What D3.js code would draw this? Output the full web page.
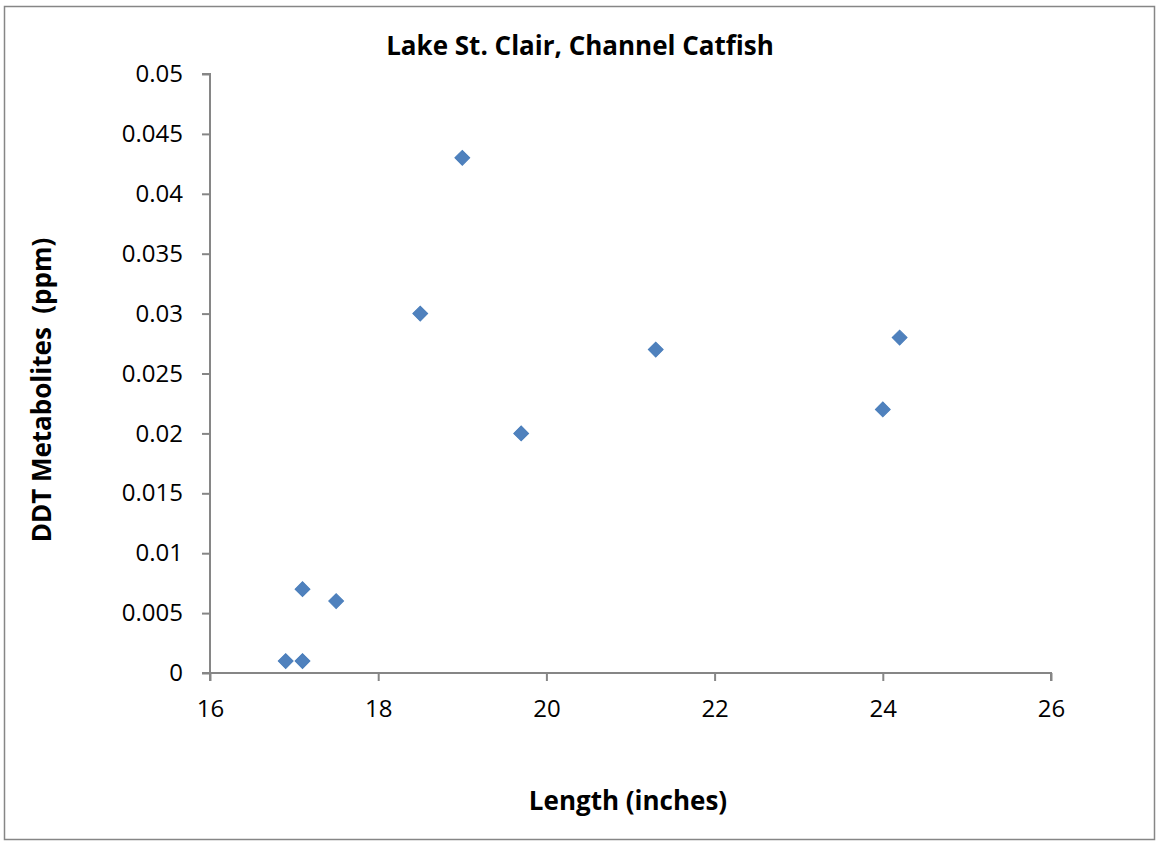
<!DOCTYPE html>
<html><head><meta charset="utf-8">
<script src="https://cdn.jsdelivr.net/npm/d3@7"></script>
<style>body{margin:0;background:#fff}text{font-family:"Open Sans",sans-serif}</style>
</head><body><svg id="c" width="1156" height="842"></svg>
<script>
const lengths = [16.9, 17.1, 17.1, 17.5, 18.5, 19.0, 19.7, 21.3, 24.0, 24.2];
const ddt = [0.001, 0.001, 0.007, 0.006, 0.030, 0.043, 0.020, 0.027, 0.022, 0.028];
const xTicks = [16, 18, 20, 22, 24, 26];
const yTicks = [0, 0.005, 0.01, 0.015, 0.02, 0.025, 0.03, 0.035, 0.04, 0.045, 0.05];
const title = "Lake St. Clair, Channel Catfish";
const xTitle = "Length (inches)";
const yTitle = "DDT Metabolites  (ppm)";

const svg = d3.select("#c");
svg.append("rect").attr("x",4.5).attr("y",6.5).attr("width",1150).attr("height",833)
  .attr("fill","#fff").attr("stroke","#868686").attr("stroke-width",1.5);

const x = d3.scaleLinear().domain([16,26]).range([210,1051]);
const y = d3.scaleLinear().domain([0,0.05]).range([673,74]);

const ax = svg.append("g").attr("transform","translate(0,673)")
  .call(d3.axisBottom(x).tickValues(xTicks).tickSize(8).tickPadding(19).tickFormat(d3.format("d")));
const ay = svg.append("g").attr("transform","translate(210,0)")
  .call(d3.axisLeft(y).tickValues(yTicks).tickSize(8).tickPadding(19).tickFormat(d=>d===0?"0":String(+d.toFixed(3))));
[ax,ay].forEach(g=>{
  g.select(".domain").attr("stroke","#868686").attr("stroke-width",2);
  g.selectAll(".tick line").attr("stroke","#868686").attr("stroke-width",2);
  g.selectAll(".tick text").attr("fill","#000").style("font-size","24px").style("font-family","'Open Sans',sans-serif");
});
ax.select(".domain").attr("d","M210,8V0H1051V8");
ay.select(".domain").attr("d","M-8,74H0V673H-8");

svg.append("g").selectAll("path").data(lengths).join("path")
  .attr("transform",(d,i)=>`translate(${x(d)},${y(ddt[i])}) rotate(45)`)
  .attr("d", d3.symbol().type(d3.symbolSquare).size(110))
  .attr("fill","#4F81BD").attr("stroke","#4A7EBB").attr("stroke-width",1);

svg.append("text").attr("x",580).attr("y",55).attr("text-anchor","middle")
  .style("font-size","26px").style("font-weight","bold").text(title);
svg.append("text").attr("x",628).attr("y",810).attr("text-anchor","middle")
  .style("font-size","26px").style("font-weight","bold").text(xTitle);
svg.append("text").attr("transform","translate(51,390) rotate(-90)").attr("text-anchor","middle")
  .style("font-size","26px").style("font-weight","bold").style("white-space","pre").text(yTitle);
</script></body></html>
